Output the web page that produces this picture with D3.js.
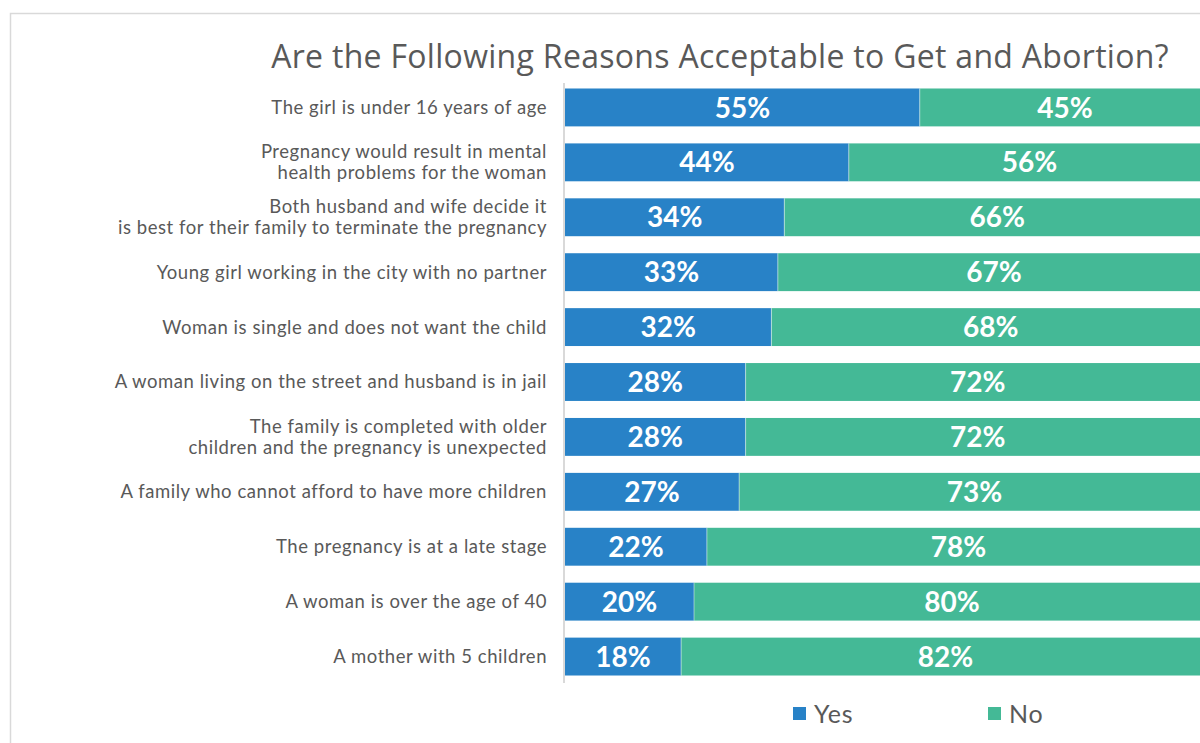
<!DOCTYPE html>
<html>
<head>
<meta charset="utf-8">
<script src="https://cdn.jsdelivr.net/npm/d3@7"></script>
<style>
  html, body { margin: 0; padding: 0; background: #fff; }
  svg { display: block; }
</style>
</head>
<body>
<svg id="chart" width="1200" height="743"></svg>
<script>
// Survey responses: share answering Yes / No for each reason
const categories = [
  ["The girl is under 16 years of age"],
  ["Pregnancy would result in mental", "health problems for the woman"],
  ["Both husband and wife decide it", "is best for their family to terminate the pregnancy"],
  ["Young girl working in the city with no partner"],
  ["Woman is single and does not want the child"],
  ["A woman living on the street and husband is in jail"],
  ["The family is completed with older", "children and the pregnancy is unexpected"],
  ["A family who cannot afford to have more children"],
  ["The pregnancy is at a late stage"],
  ["A woman is over the age of 40"],
  ["A mother with 5 children"]
];
const yesValues = [55, 44, 34, 33, 32, 28, 28, 27, 22, 20, 18];
const noValues  = [45, 56, 66, 67, 68, 72, 72, 73, 78, 80, 82];
const seriesNames = ["Yes", "No"];
const seriesColors = ["#2882c7", "#44b996"];
const titleText = "Are the Following Reasons Acceptable to Get and Abortion?";

const svg = d3.select("#chart");
const labelFont = "Lato, 'Open Sans', sans-serif";
const textColor = "#595959";

// outer chart frame
svg.append("rect")
  .attr("x", 10.5).attr("y", 13.5)
  .attr("width", 1220).attr("height", 760)
  .attr("fill", "#fff").attr("stroke", "#d9d9d9").attr("stroke-width", 1.5);

// title
svg.append("text")
  .attr("x", 720).attr("y", 68)
  .attr("text-anchor", "middle")
  .attr("font-family", "'Open Sans', sans-serif")
  .attr("font-size", 32)
  .attr("letter-spacing", 0.3)
  .attr("fill", textColor)
  .text(titleText);

const rows = d3.range(categories.length);
const x = d3.scaleLinear().domain([0, 100]).range([565, 1210]);
const y = d3.scaleBand().domain(rows).range([83, 681]).paddingInner(0.31).paddingOuter(0.1);

const stacked = rows.map(i => {
  const segs = [];
  let start = 0;
  [yesValues[i], noValues[i]].forEach((v, k) => {
    segs.push({ row: i, k, v, x0: start, x1: start + v });
    start += v;
  });
  return segs;
}).flat();

const g = svg.append("g");
g.selectAll("rect.seg")
  .data(stacked)
  .join("rect")
  .attr("class", "seg")
  .attr("x", d => x(d.x0))
  .attr("y", d => y(d.row))
  .attr("width", d => x(d.x1) - x(d.x0))
  .attr("height", y.bandwidth())
  .attr("fill", d => seriesColors[d.k]);

// thin separators between segments
g.selectAll("line.sep")
  .data(stacked.filter(d => d.k === 1))
  .join("line")
  .attr("x1", d => x(d.x0)).attr("x2", d => x(d.x0))
  .attr("y1", d => y(d.row)).attr("y2", d => y(d.row) + y.bandwidth())
  .attr("stroke", "#ffffff").attr("stroke-width", 0.8).attr("stroke-opacity", 0.6);

// value labels
g.selectAll("text.val")
  .data(stacked)
  .join("text")
  .attr("class", "val")
  .attr("x", d => (x(d.x0) + x(d.x1)) / 2)
  .attr("y", d => y(d.row) + y.bandwidth() / 2)
  .attr("dy", "0.36em")
  .attr("text-anchor", "middle")
  .attr("font-family", labelFont)
  .attr("font-weight", "bold")
  .attr("font-size", 28)
  .attr("fill", "#ffffff")
  .text(d => d.v + "%");

// vertical category axis
const yAxis = d3.axisLeft(y).tickSize(0).tickFormat("");
const axisG = svg.append("g").attr("transform", "translate(564,0)").call(yAxis);
axisG.select(".domain").attr("stroke", "#d9d9d9").attr("stroke-width", 2)
  .attr("d", "M0,83V683");

// category labels, right-aligned
const catG = svg.append("g");
rows.forEach(i => {
  const lines = categories[i];
  const cy = y(i) + y.bandwidth() / 2;
  const lh = 21;
  const t = catG.append("text")
    .attr("text-anchor", "end")
    .attr("font-family", labelFont)
    .attr("font-size", 18.5)
    .attr("letter-spacing", 0.55)
    .attr("fill", textColor);
  lines.forEach((ln, j) => {
    t.append("tspan")
      .attr("x", 547)
      .attr("y", cy + (j - (lines.length - 1) / 2) * lh)
      .attr("dy", "0.35em")
      .text(ln);
  });
});

// legend
const legendX = [793, 988];
const lg = svg.append("g");
seriesNames.forEach((name, k) => {
  lg.append("rect")
    .attr("x", legendX[k]).attr("y", 707)
    .attr("width", 13).attr("height", 13)
    .attr("fill", seriesColors[k]);
  lg.append("text")
    .attr("x", legendX[k] + 21).attr("y", 714)
    .attr("dy", "0.36em")
    .attr("font-family", labelFont)
    .attr("font-size", 25)
    .attr("letter-spacing", 0.8)
    .attr("fill", textColor)
    .text(name);
});
</script>
</body>
</html>
